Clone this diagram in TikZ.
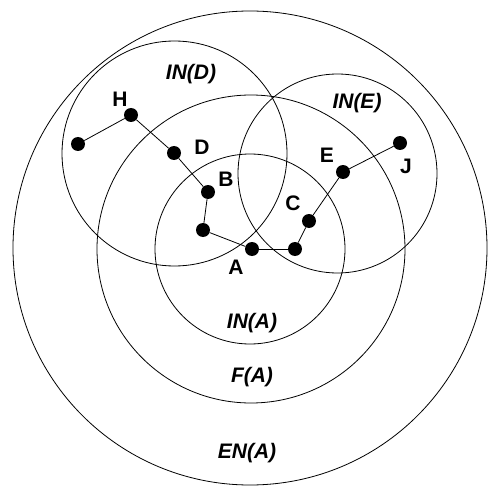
\documentclass[tikz,border=0pt]{standalone}
\usepackage{fontspec}
\setmainfont{Liberation Sans}
\begin{document}
\begin{tikzpicture}[
x=1pt, y=-1pt,
region/.style={
draw,
circle,
inner sep=0pt,
line width=0.8pt
},
dot/.style={
circle,
fill,
inner sep=0pt,
minimum size=14pt
},
tag/.style={
inner sep=0pt,
font=\fontsize{21}{25}\selectfont\bfseries
},
settag/.style={
tag,
font=\fontsize{21}{25}\selectfont\bfseries\itshape
},
link/.style={
line width=0.8pt
}
]
\useasboundingbox (0,0) rectangle (488,487);

% regions
\node (ena) [region, minimum size=474pt] at (250,248) {};
\node (fa) [region, minimum size=308pt] at (251,249) {};
\node (ina) [region, minimum size=190pt] at (250,249) {};
\node (ind) [region, minimum size=225pt] at (174.5,153.5) {};
\node (ine) [region, minimum size=199pt] at (337.5,173.5) {};

\node (enalabel) [settag] at (247,453) {EN(A)};
\node (falabel) [settag] at (252,377) {F(A)};
\node (inalabel) [settag] at (252,323) {IN(A)};
\node (indlabel) [settag] at (191,74) {IN(D)};
\node (inelabel) [settag] at (357,103) {IN(E)};

% vertices
\node (hl) [dot] at (78,144) {};
\node (h) [dot] at (131,115) {};
\node (d) [dot] at (174,153) {};
\node (b) [dot] at (208,192) {};
\node (bl) [dot] at (203,230) {};
\node (a) [dot] at (252,249) {};
\node (ar) [dot] at (295,249) {};
\node (c) [dot] at (309,221) {};
\node (e) [dot] at (343,172) {};
\node (j) [dot] at (400,143) {};

\node (hlabel) [tag] at (120,99) {H};
\node (dlabel) [tag] at (202,147) {D};
\node (blabel) [tag] at (226,179) {B};
\node (alabel) [tag] at (236,267) {A};
\node (clabel) [tag] at (293,203) {C};
\node (elabel) [tag] at (327,155) {E};
\node (jlabel) [tag] at (406,166) {J};

\draw[link] (hl) -- (h);
\draw[link] (h) -- (d);
\draw[link] (d) -- (b);
\draw[link] (b) -- (bl);
\draw[link] (bl) -- (a);
\draw[link] (a) -- (ar);
\draw[link] (ar) -- (c);
\draw[link] (c) -- (e);
\draw[link] (e) -- (j);

\end{tikzpicture}
\end{document}
